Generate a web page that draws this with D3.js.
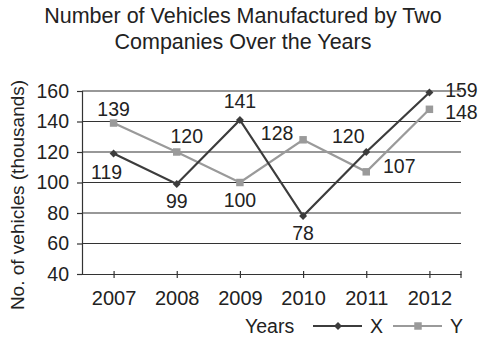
<!DOCTYPE html>
<html>
<head>
<meta charset="utf-8">
<script src="https://cdn.jsdelivr.net/npm/d3@7"></script>
<style>
  body { margin: 0; background: #fff; }
  svg { display: block; font-family: "Liberation Sans", Arial, Helvetica, sans-serif; }
  text { fill: #222; }
</style>
</head>
<body>
<svg id="chart" width="481" height="337"></svg>
<script>
// data
const years = ["2007", "2008", "2009", "2010", "2011", "2012"];
const seriesX = [119, 99, 141, 78, 120, 159];
const seriesY = [139, 120, 100, 128, 107, 148];
const yTicks = [40, 60, 80, 100, 120, 140, 160];

// where each value label sits relative to its marker
const nudgeX = [[-7, 18], [0, 17], [0, -19], [0, 17], [-18, -16], [32, -3]];
const nudgeY = [[0, -14], [10, -16], [0, 17], [-26, -7], [33, -6], [32, 3]];

const svg = d3.select("#chart");
const plotL = 82, plotR = 461, plotT = 91, plotB = 274;

const x = d3.scalePoint().domain(years).range([plotL, plotR]).padding(0.5);
const y = d3.scaleLinear().domain([40, 160]).range([plotB, plotT]);

// title
const title = svg.append("text")
  .attr("text-anchor", "middle")
  .style("font-size", "21.5px");
title.append("tspan").attr("x", 243).attr("y", 23).text("Number of Vehicles Manufactured by Two");
title.append("tspan").attr("x", 243).attr("y", 49).text("Companies Over the Years");

// gridlines
svg.append("g")
  .selectAll("line")
  .data(yTicks.filter(d => d > 40))
  .join("line")
  .attr("x1", plotL).attr("x2", plotR)
  .attr("y1", d => y(d)).attr("y2", d => y(d))
  .attr("stroke", "#333").attr("stroke-width", 1.2);

// y axis
const yAxis = svg.append("g")
  .attr("transform", `translate(${plotL},0)`)
  .call(d3.axisLeft(y).tickValues(yTicks).tickSize(5).tickPadding(8).tickFormat(d3.format("d")));
yAxis.select(".domain").attr("stroke", "#333").attr("stroke-width", 1.2);
yAxis.selectAll(".tick line").attr("stroke", "#333").attr("stroke-width", 1.2);
yAxis.selectAll("text").style("font-size", "19.5px").attr("fill", "#222").attr("font-family", null);

// x axis, ticks cross the axis line
const xAxis = svg.append("g")
  .attr("transform", `translate(0,${plotB})`)
  .call(d3.axisBottom(x).tickSizeInner(4).tickSizeOuter(0).tickPadding(13));
xAxis.select(".domain").attr("stroke", "#333").attr("stroke-width", 1.2);
xAxis.selectAll(".tick line").attr("y1", -3).attr("y2", 4).attr("stroke", "#333").attr("stroke-width", 1.2);
xAxis.selectAll("text").style("font-size", "20px").attr("fill", "#222").attr("font-family", null);
xAxis.append("line")
  .attr("x1", plotR).attr("x2", plotR).attr("y1", -3).attr("y2", 4)
  .attr("stroke", "#333").attr("stroke-width", 1.2);

// y axis title
svg.append("text")
  .attr("transform", "translate(24,195) rotate(-90)")
  .attr("text-anchor", "middle")
  .style("font-size", "19px")
  .text("No. of vehicles (thousands)");

const line = d3.line().x((d, i) => x(years[i])).y(d => y(d));

const diamond = d3.symbol().type(d3.symbolDiamond2).size(40);
const square = d3.symbol().type(d3.symbolSquare).size(56);

function drawSeries(values, colour, sym) {
  const g = svg.append("g");
  g.append("path")
    .datum(values)
    .attr("d", line)
    .attr("fill", "none")
    .attr("stroke", colour)
    .attr("stroke-width", 2.2);
  g.selectAll(".m")
    .data(values)
    .join("path")
    .attr("class", "m")
    .attr("d", sym)
    .attr("transform", (d, i) => `translate(${x(years[i])},${y(d)})`)
    .attr("fill", colour);
  return g;
}

drawSeries(seriesY, "#9a9a9a", square);
drawSeries(seriesX, "#3c3c3c", diamond);

function drawLabels(values, nudge) {
  svg.append("g")
    .selectAll("text")
    .data(values)
    .join("text")
    .attr("x", (d, i) => x(years[i]) + nudge[i][0])
    .attr("y", (d, i) => y(d) + nudge[i][1])
    .attr("text-anchor", "middle")
    .attr("dominant-baseline", "central")
    .style("font-size", "19.5px")
    .text(d => d);
}
drawLabels(seriesX, nudgeX);
drawLabels(seriesY, nudgeY);

// legend
const lg = svg.append("g").attr("transform", "translate(0,326)");
lg.append("text").attr("x", 245).attr("y", 0).attr("dominant-baseline", "central")
  .style("font-size", "19.5px").text("Years");
const legendItems = [
  { name: "X", colour: "#3c3c3c", sym: diamond, x0: 313 },
  { name: "Y", colour: "#9a9a9a", sym: square, x0: 393 }
];
legendItems.forEach(it => {
  lg.append("line").attr("x1", it.x0).attr("x2", it.x0 + 49).attr("y1", 0).attr("y2", 0)
    .attr("stroke", it.colour).attr("stroke-width", 2.2);
  lg.append("path").attr("d", it.sym).attr("transform", `translate(${it.x0 + 25},0)`).attr("fill", it.colour);
  lg.append("text").attr("x", it.x0 + 57).attr("y", 0).attr("dominant-baseline", "central")
    .style("font-size", "19.5px").text(it.name);
});
</script>
</body>
</html>
